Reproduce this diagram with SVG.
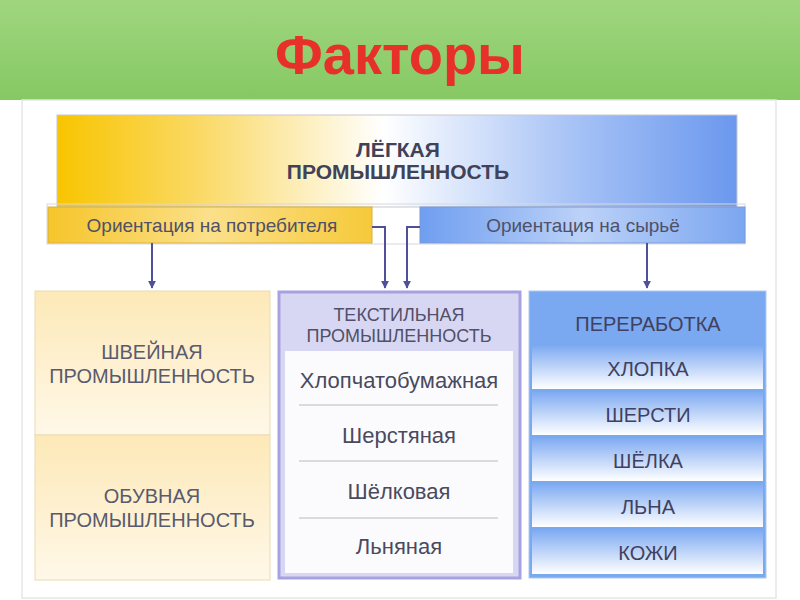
<svg xmlns="http://www.w3.org/2000/svg" width="800" height="600" viewBox="0 0 800 600">
<defs>
<linearGradient id="hdr" x1="0" y1="0" x2="0" y2="1"><stop offset="0" stop-color="#9fd67f"/><stop offset="1" stop-color="#86c863"/></linearGradient>
<linearGradient id="top" x1="0" y1="0" x2="1" y2="0"><stop offset="0" stop-color="#f8c500"/><stop offset="0.2" stop-color="#fad860"/><stop offset="0.48" stop-color="#ffffff"/><stop offset="0.75" stop-color="#a9c4f6"/><stop offset="1" stop-color="#6b98ee"/></linearGradient>
<linearGradient id="yel" x1="0" y1="0" x2="1" y2="0"><stop offset="0" stop-color="#f6c52a"/><stop offset="0.5" stop-color="#fbe08a"/><stop offset="1" stop-color="#f6c93a"/></linearGradient>
<linearGradient id="blu" x1="0" y1="0" x2="1" y2="0"><stop offset="0" stop-color="#6f9ef0"/><stop offset="0.5" stop-color="#bcd2f8"/><stop offset="1" stop-color="#7ba6f0"/></linearGradient>
<linearGradient id="cream" x1="0" y1="0" x2="0" y2="1"><stop offset="0" stop-color="#fde9b8"/><stop offset="1" stop-color="#fff8e8"/></linearGradient>
<linearGradient id="row" x1="0" y1="0" x2="0" y2="1"><stop offset="0" stop-color="#7fabf2"/><stop offset="1" stop-color="#ffffff"/></linearGradient>
<marker id="ar" viewBox="0 0 10 10" refX="9" refY="5" markerWidth="4" markerHeight="4" orient="auto"><path d="M0,0L10,5L0,10z" fill="#50509a"/></marker>
<style>
text{font-family:"Liberation Sans",Arial,sans-serif;text-anchor:middle}
.b{font-size:21px;fill:#404258}
.o{font-size:19px;fill:#505068}
.c{font-size:20px;fill:#5a5a6e}
.h{font-size:18px;fill:#505068}
.i{font-size:22px;fill:#4a4a5e}
.r{font-size:20px;fill:#404060}
.con{stroke:#50509a;stroke-width:2;fill:none;marker-end:url(#ar)}
</style>
</defs>
<rect width="800" height="600" fill="#ffffff"/>
<rect x="0" y="0" width="800" height="100" fill="url(#hdr)"/>
<rect x="22" y="100" width="754" height="498" fill="none" stroke="#e6e6ea" stroke-width="1.5"/>
<text x="400" y="74" style="font-size:56px;font-weight:bold;fill:#e8302a">Факторы</text>

<g id="top-node">
<rect x="57" y="115" width="680" height="92" fill="url(#top)" stroke="#c8c8d0"/>
<text class="b" x="398" y="157" font-weight="bold">ЛЁГКАЯ</text>
<text class="b" x="398" y="179" font-weight="bold">ПРОМЫШЛЕННОСТЬ</text>
</g>
<rect x="47" y="204" width="698" height="40" fill="none" stroke="#d8d8de"/>
<g id="consumer">
<rect x="48" y="207" width="324" height="36" fill="url(#yel)" stroke="#d8b040"/>
<text class="o" x="212" y="232">Ориентация на потребителя</text>
</g>
<g id="raw">
<rect x="420" y="207" width="325" height="36" fill="url(#blu)" stroke="#7a9ad8"/>
<text class="o" x="583" y="232">Ориентация на сырьё</text>
</g>

<g id="connectors">
<path class="con" d="M152,243V288"/>
<path class="con" d="M647,243V288"/>
<path class="con" d="M372,227H385V288"/>
<path class="con" d="M420,227H407V288"/>
</g>

<g id="sewing">
<rect x="35" y="291" width="235" height="144" fill="url(#cream)" stroke="#eadbb0"/>
<text class="c" x="152" y="359">ШВЕЙНАЯ</text>
<text class="c" x="152" y="383">ПРОМЫШЛЕННОСТЬ</text>
</g>
<g id="shoe">
<rect x="35" y="435" width="235" height="145" fill="url(#cream)" stroke="#eadbb0"/>
<text class="c" x="152" y="503">ОБУВНАЯ</text>
<text class="c" x="152" y="527">ПРОМЫШЛЕННОСТЬ</text>
</g>

<g id="textile">
<rect x="279" y="292" width="241" height="286" fill="#d8d7f3" stroke="#a7a2df" stroke-width="3"/>
<rect x="285" y="351" width="228" height="222" fill="#fbfbfe"/>
<text class="h" x="399" y="321">ТЕКСТИЛЬНАЯ</text>
<text class="h" x="399" y="342">ПРОМЫШЛЕННОСТЬ</text>
<text class="i" x="399" y="388">Хлопчатобумажная</text>
<text class="i" x="399" y="443">Шерстяная</text>
<text class="i" x="399" y="499">Шёлковая</text>
<text class="i" x="399" y="554">Льняная</text>
<path d="M299,405H498M299,461H498M299,518H498" stroke="#b8b8c4" stroke-width="1"/>
</g>

<g id="processing">
<rect x="529" y="291" width="237" height="287" fill="#7aa9f1" stroke="#b0c8f0"/>
<text class="r" x="648" y="331">ПЕРЕРАБОТКА</text>
<rect x="532" y="346" width="231" height="43" fill="url(#row)"/>
<rect x="532" y="392" width="231" height="43" fill="url(#row)"/>
<rect x="532" y="438" width="231" height="43" fill="url(#row)"/>
<rect x="532" y="484" width="231" height="43" fill="url(#row)"/>
<rect x="532" y="530" width="231" height="44" fill="url(#row)"/>
<text class="r" x="648" y="376">ХЛОПКА</text>
<text class="r" x="648" y="422">ШЕРСТИ</text>
<text class="r" x="648" y="468">ШЁЛКА</text>
<text class="r" x="648" y="514">ЛЬНА</text>
<text class="r" x="648" y="560">КОЖИ</text>
</g>
</svg>
